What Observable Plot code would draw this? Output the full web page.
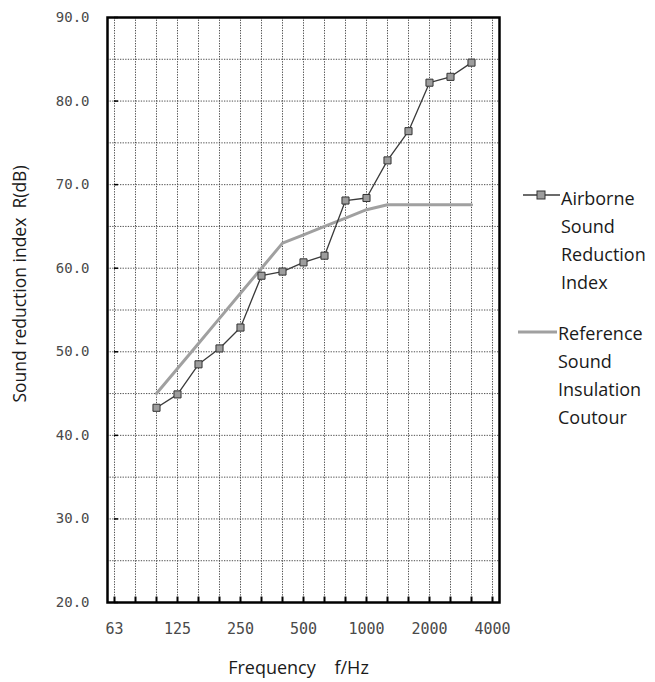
<!DOCTYPE html>
<html><head><meta charset="utf-8">
<script src="https://cdn.jsdelivr.net/npm/d3@7"></script>
<script src="https://cdn.jsdelivr.net/npm/@observablehq/plot@0.6"></script>
<style>
body{margin:0;background:#fff;}
#wrap{position:relative;width:655px;height:682px;}
.leg{position:absolute;font-family:"Open Sans";font-size:18px;line-height:28px;color:#1a1a1a;white-space:nowrap;}
.sw{position:absolute;}
</style></head><body><div id="wrap"></div>
<script>
const bands = ["63","80","100","125","160","200","250","315","400","500","630","800","1000","1250","1600","2000","2500","3150","4000"];
const octaveLabels = ["63","125","250","500","1000","2000","4000"];
const measuredFreq = ["100","125","160","200","250","315","400","500","630","800","1000","1250","1600","2000","2500","3150"];
const airborne = [43.3,44.9,48.5,50.4,52.9,59.1,59.6,60.7,61.5,68.1,68.4,72.9,76.4,82.2,82.9,84.6];
const reference = [45,48,51,54,57,60,63,64,65,66,67,67.6,67.6,67.6,67.6,67.6];
const yTicks = [20,30,40,50,60,70,80,90];
const yGrid = [25,30,35,40,45,50,55,60,65,70,75,80,85];
const seriesNames = ["Airborne\nSound\nReduction\nIndex", "Reference\nSound\nInsulation\nCoutour"];

const airRows = measuredFreq.map((f,i)=>({f, r: airborne[i]}));
const refRows = measuredFreq.map((f,i)=>({f, r: reference[i]}));

const gridStyle = {stroke:"#3c3c3c", strokeWidth:1, strokeDasharray:"1.3,1.3", strokeOpacity:0.9};

const chart = Plot.plot({
  width:655, height:682,
  marginLeft:107, marginRight:156, marginTop:17, marginBottom:80,
  x:{type:"point", domain:bands, padding:0},
  y:{domain:[20,90]},
  marks:[
    Plot.ruleX(bands, {x:d=>d, ...gridStyle}),
    Plot.ruleY(yGrid, {y:d=>d, ...gridStyle}),
    Plot.ruleX(bands, {x:d=>d, y1:20, y2:20.65, stroke:"#000", strokeWidth:2}),
    Plot.ruleY(yTicks, {y:d=>d, x1:()=>"63", x2:()=>"80", insetRight:17, stroke:"#000", strokeWidth:1.5}),
    Plot.line(refRows, {x:"f", y:"r", stroke:"#a0a0a0", strokeWidth:3}),
    Plot.line(airRows, {x:"f", y:"r", stroke:"#3a3a3a", strokeWidth:1.3}),
    Plot.dot(airRows, {x:"f", y:"r", symbol:"square", r:4, fill:"#9d9d9d", stroke:"#333", strokeWidth:1}),
    Plot.frame({stroke:"#000", strokeWidth:2.5}),
    Plot.axisX({ticks:octaveLabels, tickSize:0, tickPadding:21, fontSize:15, fontFamily:"DejaVu Sans Mono", fill:"#4a4a4a", label:null}),
    Plot.axisY({ticks:yTicks, tickSize:0, tickPadding:18, tickFormat:d=>d.toFixed(1), fontSize:14, fontFamily:"DejaVu Sans Mono", fill:"#4a4a4a", label:null}),
    Plot.text(["Sound reduction index\u00a0\u00a0R(dB)"], {text:d=>d, frameAnchor:"left", rotate:-90, textAnchor:"middle", dx:-87, dy:-26, fontSize:17.5, fontFamily:"Open Sans", fill:"#1a1a1a"}),
    Plot.text(["Frequency\u00a0\u00a0\u00a0\u00a0f/Hz"], {text:d=>d, frameAnchor:"bottom", lineAnchor:"bottom", dx:-5, dy:71, fontSize:18, fontFamily:"Open Sans", fill:"#1a1a1a"})
  ]
});
const wrap = document.getElementById("wrap");
wrap.appendChild(chart);

// legend
function addText(txt, left, top){
  const d = document.createElement("div");
  d.className = "leg";
  d.style.left = left+"px"; d.style.top = top+"px";
  d.innerHTML = txt.split("\n").join("<br>");
  wrap.appendChild(d);
}
addText(seriesNames[0], 561, 184);
addText(seriesNames[1], 558, 319);
const ns = "http://www.w3.org/2000/svg";
const sw = document.createElementNS(ns,"svg");
sw.setAttribute("width",60); sw.setAttribute("height",200);
sw.setAttribute("class","sw");
sw.style.left="515px"; sw.style.top="180px";
sw.innerHTML = `<line x1="8" x2="45" y1="15" y2="15" stroke="#3a3a3a" stroke-width="1.3"/>
<rect x="22" y="11" width="8" height="8" fill="#9d9d9d" stroke="#333" stroke-width="1"/>
<line x1="3" x2="42" y1="152" y2="152" stroke="#a0a0a0" stroke-width="3"/>`;
wrap.appendChild(sw);
</script></body></html>
